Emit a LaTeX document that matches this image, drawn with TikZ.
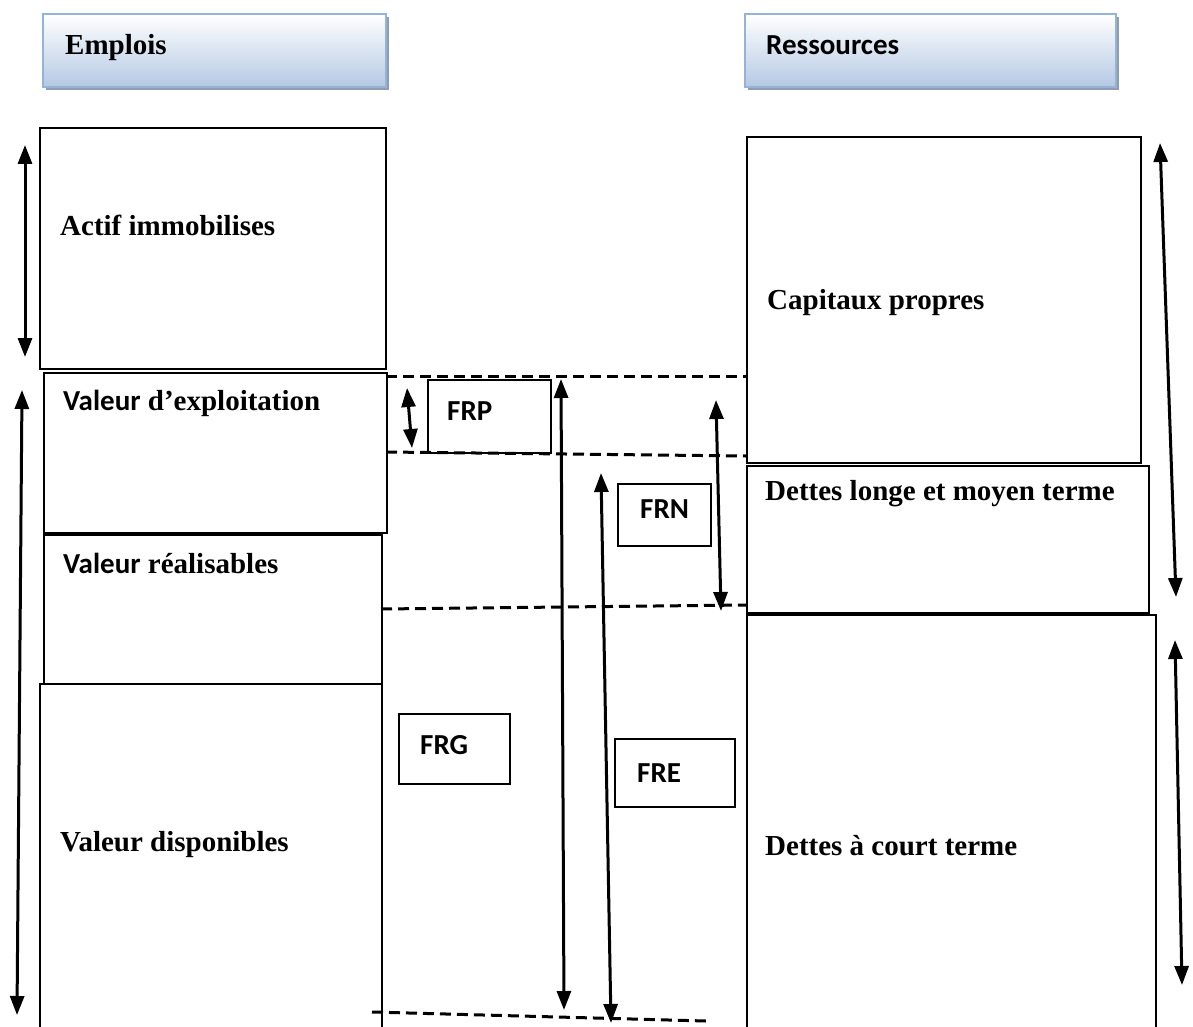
\documentclass[tikz,border=0pt]{standalone}
\usepackage{fontspec}
\setmainfont{Liberation Serif}
\newfontfamily\calibri{Carlito}
\usetikzlibrary{arrows.meta}
\definecolor{headfill}{HTML}{B4C9E3}
\definecolor{headline}{HTML}{95B3D7}
\definecolor{headshadow}{HTML}{8E9DB0}
\tikzset{
  head/.style={draw=headline, line width=2pt, top color=white, bottom color=headfill,
    anchor=north west, inner sep=0pt},
  shadowbox/.style={fill=headshadow, anchor=north west, inner sep=0pt, draw=none},
  block/.style={draw=black, line width=2pt, anchor=north west, inner sep=0pt},
  lbl/.style={anchor=west, inner sep=0pt, font=\fontsize{29}{34}\selectfont\bfseries},
  sanslbl/.style={lbl, font=\fontsize{29}{34}\selectfont\calibri\bfseries},
  dim/.style={{Triangle[width=14pt,length=19pt]}-{Triangle[width=14pt,length=19pt]}, line width=3pt},
  level/.style={dash pattern=on 11pt off 6pt, line width=3pt},
}
\begin{document}
\begin{tikzpicture}[x=1pt,y=-1pt]
\useasboundingbox (0,0) rectangle (1193,1027);
\clip (0,0) rectangle (1193,1027);

% column headings
\node[shadowbox, minimum width=343pt, minimum height=73pt] (empshadow) at (46,17) {};
\node[head, minimum width=343pt, minimum height=73pt] (emphead) at (42,13) {};
\node[lbl, anchor=base west] (emptext) at (65,55) {Emplois};
\node[shadowbox, minimum width=371pt, minimum height=73pt] (resshadow) at (748,17) {};
\node[head, minimum width=371pt, minimum height=73pt] (reshead) at (744,13) {};
\node[sanslbl, anchor=base west] (restext) at (766,55) {Ressources};

% assets (left column)
\node[block, minimum width=346pt, minimum height=241pt] (actif) at (39,127) {};
\node[block, minimum width=343pt, minimum height=160pt] (vexp) at (43,372) {};
\node[block, minimum width=338pt, minimum height=149pt] (vreal) at (43,534) {};
\node[block, minimum width=342pt, minimum height=360pt] (vdisp) at (39,683) {};
\node[lbl] (tactif) at (60,225) {Actif immobilises};
\node[lbl] (tvexp) at (63,403) {{\calibri Valeur} d’exploitation};
\node[lbl] (tvreal) at (63,563) {{\calibri Valeur} réalisables};
\node[lbl] (tvdisp) at (60,845) {Valeur disponibles};

% liabilities (right column)
\node[block, minimum width=394pt, minimum height=326pt] (capx) at (746,136) {};
\node[block, minimum width=402pt, minimum height=147pt] (dlmt) at (746,465) {};
\node[block, minimum width=409pt, minimum height=430pt] (dct) at (746,614) {};
\node[lbl] (tcapx) at (767,303) {Capitaux propres};
\node[lbl] (tdlmt) at (765,494) {Dettes longe et moyen terme};
\node[lbl] (tdct) at (765,846) {Dettes à court terme};

% working capital labels
\node[block, minimum width=123pt, minimum height=73pt] (frp) at (427,379) {};
\node[sanslbl] (tfrp) at (447,411) {FRP};
\node[block, minimum width=93pt, minimum height=62pt] (frn) at (617,483) {};
\node[sanslbl] (tfrn) at (640,509) {FRN};
\node[block, minimum width=111pt, minimum height=70pt] (frg) at (398,713) {};
\node[sanslbl] (tfrg) at (420,745) {FRG};
\node[block, minimum width=120pt, minimum height=68pt] (fre) at (614,738) {};
\node[sanslbl] (tfre) at (637,773) {FRE};

% dashed level lines
\coordinate (l1a) at (386,376); \coordinate (l1b) at (746,376);
\coordinate (l2a) at (386,452); \coordinate (l2b) at (746,456);
\coordinate (l3a) at (381,609); \coordinate (l3b) at (746,605);
\coordinate (l4a) at (372,1012); \coordinate (l4b) at (706,1021);
\draw[level] (l1a) -- (l1b);
\draw[level] (l2a) -- (l2b);
\draw[level] (l3a) -- (l3b);
\draw[level] (l4a) -- (l4b);

% extent arrows
\coordinate (a1t) at (25,145);   \coordinate (a1b) at (25,357);
\coordinate (a2t) at (22,390);   \coordinate (a2b) at (17,1015);
\coordinate (a3t) at (407,388);  \coordinate (a3b) at (412,448);
\coordinate (a4t) at (561,379);  \coordinate (a4b) at (564,1010);
\coordinate (a5t) at (601,473);  \coordinate (a5b) at (611,1023);
\coordinate (a6t) at (716,400);  \coordinate (a6b) at (721,611);
\coordinate (a7t) at (1160,143); \coordinate (a7b) at (1176,597);
\coordinate (a8t) at (1175,640); \coordinate (a8b) at (1182,985);
\draw[dim] (a1t) -- (a1b);
\draw[dim] (a2t) -- (a2b);
\draw[dim] (a3t) -- (a3b);
\draw[dim] (a4t) -- (a4b);
\draw[dim] (a5t) -- (a5b);
\draw[dim] (a6t) -- (a6b);
\draw[dim] (a7t) -- (a7b);
\draw[dim] (a8t) -- (a8b);
\end{tikzpicture}
\end{document}
